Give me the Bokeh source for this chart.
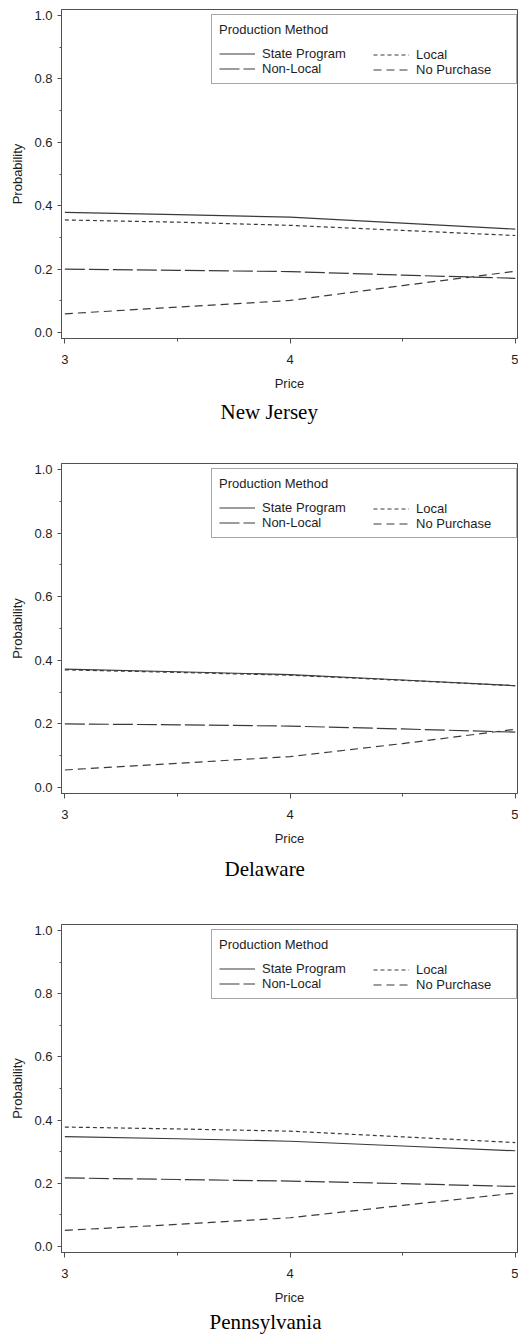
from bokeh.plotting import figure
from bokeh.layouts import column
from bokeh.models import (ColumnDataSource, FixedTicker, PrintfTickFormatter,
                          Legend, LegendItem, Title, Range1d)
from bokeh.embed import file_html
from bokeh.resources import INLINE

# ---------------- data ----------------
price = [3.0, 3.5, 4.0, 4.5, 5.0]
states = ["New Jersey", "Delaware", "Pennsylvania"]
methods = ["State Program", "Local", "Non-Local", "No Purchase"]

nj_state_program = [0.379, 0.372, 0.364, 0.345, 0.326]
nj_local         = [0.355, 0.348, 0.338, 0.322, 0.306]
nj_non_local     = [0.200, 0.196, 0.192, 0.181, 0.171]
nj_no_purchase   = [0.059, 0.080, 0.101, 0.148, 0.193]

de_state_program = [0.372, 0.364, 0.355, 0.338, 0.320]
de_local         = [0.370, 0.362, 0.353, 0.337, 0.320]
de_non_local     = [0.200, 0.197, 0.193, 0.184, 0.174]
de_no_purchase   = [0.055, 0.076, 0.097, 0.138, 0.183]

pa_state_program = [0.348, 0.341, 0.333, 0.318, 0.303]
pa_local         = [0.378, 0.372, 0.365, 0.347, 0.329]
pa_non_local     = [0.217, 0.212, 0.207, 0.199, 0.190]
pa_no_purchase   = [0.051, 0.070, 0.091, 0.130, 0.169]

x_ticks = [3, 4, 5]
x_minor = [3.5, 4.5]
y_ticks = [0.0, 0.2, 0.4, 0.6, 0.8, 1.0]
y_minor = [0.1, 0.3, 0.5, 0.7, 0.9]

series = {
    "New Jersey":   [nj_state_program, nj_local, nj_non_local, nj_no_purchase],
    "Delaware":     [de_state_program, de_local, de_non_local, de_no_purchase],
    "Pennsylvania": [pa_state_program, pa_local, pa_non_local, pa_no_purchase],
}

# ---------------- style ----------------
DASH = {"State Program": "solid", "Local": "4 3", "Non-Local": "20 4", "No Purchase": "8 5"}
LINE_COLOR = "#3a3a3a"
SANS = "Liberation Sans"
SERIF = "Liberation Serif"
TEXT_COLOR = "#1e1e1e"
AXIS_COLOR = "#505050"

# height, min_border_top, min_border_left, frame_height, title offset, title standoff
layout_cfg = {
    "New Jersey":   (440, 9, 57, 329, 159, 8),
    "Delaware":     (462, 23, 61, 330, 163, 13),
    "Pennsylvania": (438, 22, 60, 328, 148, 0),
}

figs = []
for st in states:
    h, top, left, fh, toff, tstand = layout_cfg[st]
    p = figure(width=518, height=h, output_backend="svg", toolbar_location=None,
               title=None, x_range=Range1d(2.985, 5.01), y_range=Range1d(-0.019, 1.019),
               min_border_top=top, min_border_left=left, min_border_right=1,
               min_border_bottom=h - top - fh)
    p.xgrid.visible = False
    p.ygrid.visible = False
    p.outline_line_color = AXIS_COLOR
    p.outline_line_width = 1
    p.background_fill_color = "white"
    p.border_fill_color = "white"

    vals = series[st]
    src = ColumnDataSource({"price": price, **{m: v for m, v in zip(methods, vals)}})
    rends = {}
    for m in methods:
        rends[m] = p.line("price", m, source=src, line_color=LINE_COLOR, line_width=1.2,
                          line_dash=DASH[m])

    # axes
    xa = p.xaxis[0]
    xa.ticker = FixedTicker(ticks=x_ticks, minor_ticks=x_minor)
    xa.axis_label = "Price"
    ya = p.yaxis[0]
    ya.ticker = FixedTicker(ticks=y_ticks, minor_ticks=y_minor)
    ya.formatter = PrintfTickFormatter(format="%.1f")
    ya.axis_label = "Probability"
    for ax in (xa, ya):
        ax.axis_line_color = AXIS_COLOR
        ax.major_tick_line_color = AXIS_COLOR
        ax.minor_tick_line_color = AXIS_COLOR
        ax.major_tick_in = 0
        ax.minor_tick_in = 0
        ax.major_label_text_font = SANS
        ax.major_label_text_font_size = "13px"
        ax.major_label_text_color = TEXT_COLOR
        ax.axis_label_text_font = SANS
        ax.axis_label_text_font_size = "13px"
        ax.axis_label_text_font_style = "normal"
        ax.axis_label_text_color = TEXT_COLOR
    xa.major_tick_out = 5
    xa.minor_tick_out = 3
    xa.major_label_standoff = 11
    xa.axis_label_standoff = 9
    ya.major_tick_out = 4
    ya.minor_tick_out = 2
    ya.major_label_standoff = 5
    ya.axis_label_standoff = 6

    # legends: first column with title and box, second column overlay
    common = dict(label_text_font=SANS, label_text_font_size="13px",
                  label_text_color=TEXT_COLOR, glyph_width=36, glyph_height=15,
                  label_height=15, label_standoff=7, spacing=0)
    leg1 = Legend(items=[LegendItem(label=m, renderers=[rends[m]]) for m in ["State Program", "Non-Local"]],
                  location=(150, fh - 75), title="Production Method",
                  title_text_font=SANS, title_text_font_size="13px",
                  title_text_font_style="normal", title_text_color=TEXT_COLOR,
                  title_standoff=9, padding=7, label_width=247,
                  border_line_color=AXIS_COLOR, border_line_width=1,
                  background_fill_color="white", background_fill_alpha=1.0, **common)
    leg2 = Legend(items=[LegendItem(label=m, renderers=[rends[m]]) for m in ["Local", "No Purchase"]],
                  location=(312, fh - 68), padding=0, border_line_alpha=0,
                  background_fill_alpha=0, **common)
    p.add_layout(leg1)
    p.add_layout(leg2)

    t = Title(text=st, align="left", offset=toff, text_font=SERIF, text_font_size="21px",
              text_font_style="normal", text_color="#000000", standoff=tstand)
    p.add_layout(t, "below")
    figs.append(p)

page = column(*figs, spacing=0)
open("out.html", "w").write(file_html(page, INLINE))
